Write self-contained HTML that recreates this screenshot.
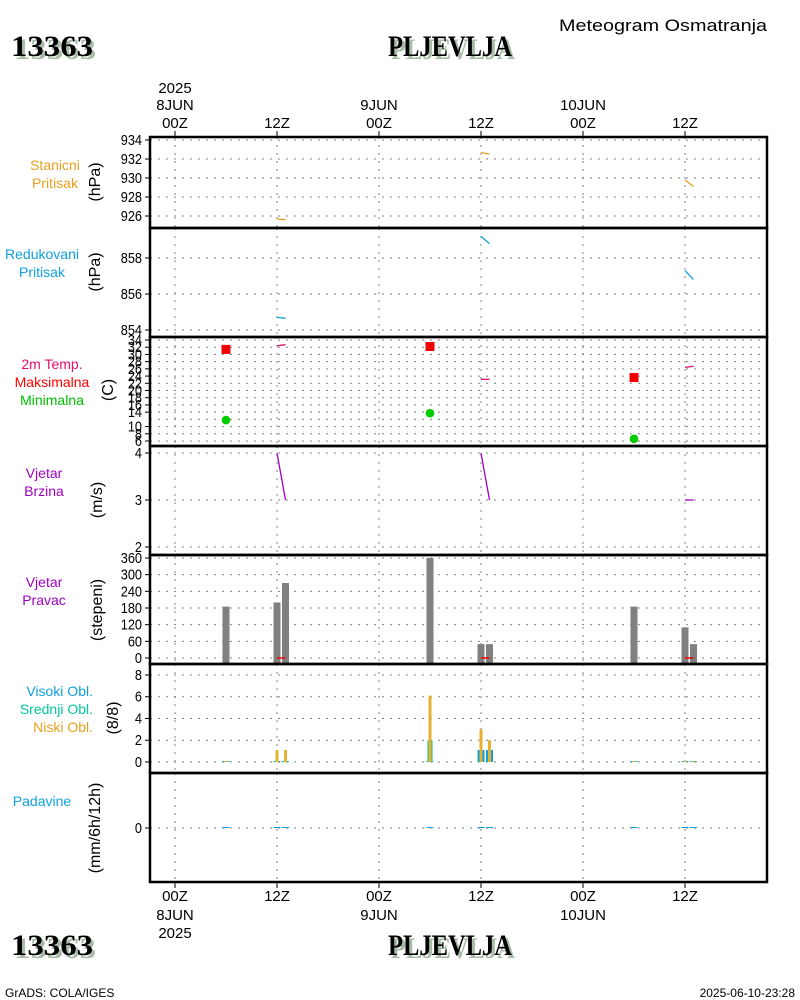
<!DOCTYPE html>
<html><head><meta charset="utf-8"><style>
html,body{margin:0;padding:0;background:#fff;}
svg{display:block;}
text{font-family:"Liberation Sans",sans-serif;}
.big{font-family:"Liberation Serif",serif;font-weight:bold;font-size:30px;}
</style></head><body>
<svg id="chart" width="800" height="1000" viewBox="0 0 800 1000" xmlns="http://www.w3.org/2000/svg">
<g id="grid"></g>
<g id="marks"></g>
<g id="frames"></g>
<g id="labels"></g>
<text x="559" y="31" font-size="17" textLength="208" lengthAdjust="spacingAndGlyphs">Meteogram Osmatranja</text>
<text x="14" y="59" class="big" fill="#a8bda8" textLength="82" lengthAdjust="spacingAndGlyphs">13363</text>
<text x="11" y="56" class="big" textLength="82" lengthAdjust="spacingAndGlyphs">13363</text>
<text x="391" y="59" class="big" fill="#a8bda8" textLength="124" lengthAdjust="spacingAndGlyphs">PLJEVLJA</text>
<text x="388" y="56" class="big" textLength="124" lengthAdjust="spacingAndGlyphs">PLJEVLJA</text>
<text x="14" y="958" class="big" fill="#a8bda8" textLength="82" lengthAdjust="spacingAndGlyphs">13363</text>
<text x="11" y="955" class="big" textLength="82" lengthAdjust="spacingAndGlyphs">13363</text>
<text x="391" y="958" class="big" fill="#a8bda8" textLength="124" lengthAdjust="spacingAndGlyphs">PLJEVLJA</text>
<text x="388" y="955" class="big" textLength="124" lengthAdjust="spacingAndGlyphs">PLJEVLJA</text>
<text x="5" y="997" font-size="12">GrADS: COLA/IGES</text>
<text x="795" y="997" font-size="12" text-anchor="end">2025-06-10-23:28</text>
</svg>
<script>
// ---- data ----
const timeTickHours = [0, 12, 24, 36, 48, 60];
const timeTickLabels = ["00Z", "12Z", "00Z", "12Z", "00Z", "12Z"];
const dayLabels = ["8JUN", "", "9JUN", "", "10JUN", ""];
const stnPresTimes = [[12, 13], [36, 37], [60, 61]];
const stnPresVals = [[925.7, 925.6], [932.7, 932.5], [929.8, 929.1]];
const redPresVals = [[854.7, 854.65], [859.2, 858.8], [857.3, 856.8]];
const temp2mVals = [[32.4, 32.7], [23.1, 23.1], [26.4, 26.7]];
const tmaxTimes = [6, 30, 54];
const tmaxVals = [31.4, 32.2, 23.6];
const tminVals = [11.8, 13.7, 6.6];
const windSpdVals = [[4, 3], [4, 3], [3, 3]];
const windDirTimes = [6, 12, 13, 30, 36, 37, 54, 60, 61];
const windDirVals = [185, 200, 270, 360, 50, 50, 185, 110, 50];
const cloudTimes = [6, 12, 13, 30, 36, 37, 54, 60, 61];
const cloudHigh = [0, 0, 0, 0, 1.1, 1.1, 0, 0, 0];
const cloudMid = [0, 0, 0, 2, 0, 0, 0, 0, 0];
const cloudLow = [0, 1.1, 1.1, 6.1, 3, 2, 0, 0, 0];
const precipTimes = [6, 12, 13, 30, 36, 37, 54, 60, 61];
const precipVals = [0, 0, 0, 0, 0, 0, 0, 0, 0];

const stnTicks = [926, 928, 930, 932, 934];
const redTicks = [854, 856, 858];
const tempTicks = [6, 8, 10, 14, 16, 18, 20, 22, 24, 26, 28, 30, 32, 34];
const tempGrid = [6,8,10,12,14,16,18,20,22,24,26,28,30,32,34];
const spdTicks = [2, 3, 4];
const dirTicks = [0, 60, 120, 180, 240, 300, 360];
const cloudTicks = [0, 2, 4, 6, 8];
const precipTicks = [0];

// ---- layout ----
const NS = "http://www.w3.org/2000/svg";
const X0 = 150, X1 = 767;
const xh = h => 175 + h * 8.5;
const lin = (v0, y0, v1, y1) => v => y0 + (v - v0) * (y1 - y0) / (v1 - v0);
const panels = [
  {top:137, bot:228, y: lin(926,216,934,140), ticks: stnTicks, grid: stnTicks, name:"station-pressure"},
  {top:228, bot:337, y: lin(854,330,858,258), ticks: redTicks, grid: redTicks, name:"reduced-pressure"},
  {top:337, bot:446, y: lin(6,441,34,340), ticks: tempTicks, grid: tempGrid, name:"temperature"},
  {top:446, bot:555, y: lin(2,547,4,453), ticks: spdTicks, grid: spdTicks, name:"wind-speed"},
  {top:555, bot:664, y: lin(0,658,360,558), ticks: dirTicks, grid: dirTicks, name:"wind-direction"},
  {top:664, bot:773, y: lin(0,762,8,675), ticks: cloudTicks, grid: cloudTicks, name:"cloud-cover"},
  {top:773, bot:882, y: lin(0,828,1,800), ticks: precipTicks, grid: precipTicks, name:"precipitation"}
];
function mk(tag, attrs, parent){const e=document.createElementNS(NS,tag);for(const k in attrs)e.setAttribute(k,attrs[k]);document.getElementById(parent).appendChild(e);return e;}

panels.forEach(p=>{
  p.grid.forEach(v=>{
    const l=mk("line",{x1:X0,x2:X1,y1:p.y(v),y2:p.y(v),stroke:"#808080","stroke-width":1,"stroke-dasharray":"2,6"},"grid");
    
    
  });
  timeTickHours.forEach(h=>{
    const l=mk("line",{x1:xh(h),x2:xh(h),y1:p.top,y2:p.bot,stroke:"#808080","stroke-width":1,"stroke-dasharray":"2,6"},"grid");
    
    
  });
  p.ticks.forEach(v=>{
    const t=mk("text",{x:142,y:p.y(v)+5,"text-anchor":"end","font-size":15,transform:`translate(142,0) scale(0.85,1) translate(-142,0)`},"labels");
    t.textContent=v;
    
    
    mk("line",{x1:145,x2:150,y1:p.y(v),y2:p.y(v),stroke:"#000"},"labels");
  });
  const r=mk("rect",{x:X0,y:p.top,width:X1-X0,height:p.bot-p.top,fill:"none",stroke:"#000","stroke-width":2.5},"frames");
  
  
});
timeTickHours.forEach((h,i)=>{
  mk("line",{x1:xh(h),x2:xh(h),y1:131,y2:137,stroke:"#000"},"frames");
  mk("line",{x1:xh(h),x2:xh(h),y1:882,y2:888,stroke:"#000"},"frames");
  const a=mk("text",{x:xh(h),y:128,"text-anchor":"middle","font-size":15},"labels");a.textContent=timeTickLabels[i];
  
  
  const b=mk("text",{x:xh(h),y:901,"text-anchor":"middle","font-size":15},"labels");b.textContent=timeTickLabels[i];
  
  
  if(dayLabels[i]){
    const c=mk("text",{x:xh(h),y:110,"text-anchor":"middle","font-size":15},"labels");c.textContent=dayLabels[i];
    
    
    const d=mk("text",{x:xh(h),y:920,"text-anchor":"middle","font-size":15},"labels");d.textContent=dayLabels[i];
    
    
  }
});
[[175,93],[175,938]].forEach(([x,y])=>{const t=mk("text",{x:x,y:y,"text-anchor":"middle","font-size":15},"labels");t.textContent="2025";
  
  });

// panel titles: [x, anchor, lines, y0, unit, unitY, unitX]
const titles=[
 [55,"middle",[["Stanicni","#e8a020"],["Pritisak","#e8a020"]],170,"(hPa)",182,100],
 [42,"middle",[["Redukovani","#10a0e0"],["Pritisak","#10a0e0"]],259,"(hPa)",272,100],
 [52,"middle",[["2m Temp.","#e0106e"],["Maksimalna","#ff0000"],["Minimalna","#00c000"]],369,"(C)",390,113],
 [44,"middle",[["Vjetar","#a000c0"],["Brzina","#a000c0"]],478,"(m/s)",500,102],
 [44,"middle",[["Vjetar","#a000c0"],["Pravac","#a000c0"]],587,"(stepeni)",610,102],
 [93,"end",[["Visoki Obl.","#10a0e0"],["Srednji Obl.","#00c8a0"],["Niski Obl.","#e8a020"]],696,"(8/8)",718,118],
 [42,"middle",[["Padavine","#10a0e0"]],806,"(mm/6h/12h)",828,100]
];
titles.forEach(([cx,anc,lines,y0,unit,uy,ux])=>{
  lines.forEach(([s,c],i)=>{const t=mk("text",{x:cx,y:y0+i*18,"text-anchor":anc,"font-size":14,fill:c},"labels");t.textContent=s;
    
    });
  const u=mk("text",{x:0,y:0,"text-anchor":"middle","font-size":16,transform:`translate(${ux},${uy}) rotate(-90)`},"labels");u.textContent=unit;
  
  
});

function seg(p, times, vals, color, name){
  times.forEach((ts,i)=>{
    const pts=ts.map((t,j)=>xh(t)+","+p.y(vals[i][j])).join(" ");
    const l=mk("polyline",{points:pts,fill:"none",stroke:color,"stroke-width":1.3},"marks");
    
    
  });
}
seg(panels[0], stnPresTimes, stnPresVals, "#e8a020", "station-pressure-line");
seg(panels[1], stnPresTimes, redPresVals, "#10a0e0", "reduced-pressure-line");
seg(panels[2], stnPresTimes, temp2mVals, "#e0106e", "temp-2m-line");
seg(panels[3], stnPresTimes, windSpdVals, "#a000c0", "wind-speed-line");
tmaxTimes.forEach((t,i)=>{
  const r=mk("rect",{x:xh(t)-4.5,y:panels[2].y(tmaxVals[i])-4.5,width:9,height:9,fill:"#f00000"},"marks");
  
  
  const c=mk("circle",{cx:xh(t),cy:panels[2].y(tminVals[i]),r:4.3,fill:"#00cc00"},"marks");
  
  
});
const pd=panels[4];
windDirTimes.forEach((t,i)=>{
  const y=pd.y(windDirVals[i]);
  const r=mk("rect",{x:xh(t)-3.5,y:y,width:7,height:pd.bot-y,fill:"#808080"},"marks");
  
  
});
stnPresTimes.forEach(ts=>{mk("line",{x1:xh(ts[0]),x2:xh(ts[1]),y1:pd.y(0),y2:pd.y(0),stroke:"#ff0000","stroke-width":1.5},"marks");});
const pc=panels[5];
cloudTimes.forEach((t,i)=>{
  [[cloudHigh,7,"#10a0e0","cloud-high-bar"],[cloudMid,5,"#10c890","cloud-mid-bar"],[cloudLow,3,"#e8b030","cloud-low-bar"]].forEach(([arr,w,c,n])=>{
    const v=arr[i];const y=pc.y(v);
    const r=mk("rect",{x:xh(t)-w/2,y:Math.min(y,pc.y(0)-1),width:w,height:Math.max(pc.y(0)-y,1),fill:c},"marks");
    
    
  });
});
const pp=panels[6];
precipTimes.forEach((t,i)=>{
  const y=pp.y(precipVals[i]);
  const r=mk("rect",{x:xh(t)-3.5,y:Math.min(y,pp.y(0)-1),width:7,height:Math.max(pp.y(0)-y,1),fill:"#10a0e0"},"marks");
  
  
});
</script>
</body></html>
